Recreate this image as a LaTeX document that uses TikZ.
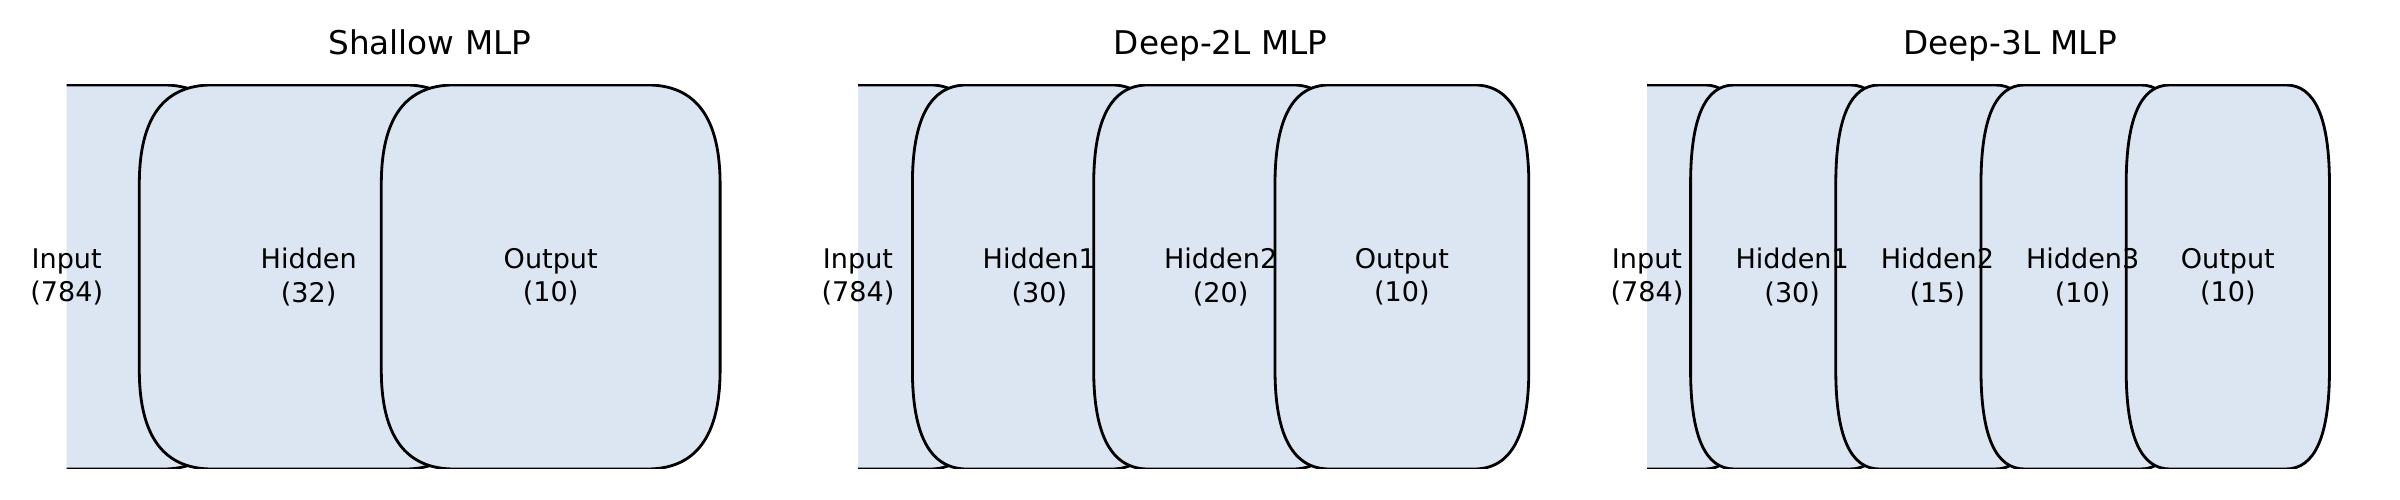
\documentclass[tikz,border=0pt]{standalone}
\usepackage{fontspec}
\setmainfont{DejaVu Sans}
\definecolor{layerfill}{RGB}{220,230,242}

\begin{document}
\begin{tikzpicture}[
  layer/.style={draw=black, fill=layerfill, line width=0.8pt},
  label/.style={inner sep=0pt, align=center, font=\fontsize{7.7}{9.4}\selectfont},
  title/.style={inner sep=0pt, anchor=base, font=\fontsize{9.3}{11}\selectfont},
  layerbox/.pic={
    \path[layer] (-0.7,1.30) -- (-0.7,3.16) .. controls (-0.7,3.82) and (-0.6,4.15) .. (-0.4,4.15)
      -- (0.4,4.15) .. controls (0.6,4.15) and (0.7,3.82) .. (0.7,3.16)
      -- (0.7,1.30) .. controls (0.7,0.64) and (0.6,0.31) .. (0.4,0.31)
      -- (-0.4,0.31) .. controls (-0.6,0.31) and (-0.7,0.64) .. (-0.7,1.30) -- cycle;
  }]
  \useasboundingbox (0,0) rectangle (24,5);

  \begin{scope}[xshift=0.667cm, x=2.42cm]
    \begin{scope}
      \clip (0,0.31) rectangle (3,4.15);
      \pic at (0,0) {layerbox};
      \pic at (1,0) {layerbox};
      \pic at (2,0) {layerbox};
    \end{scope}
    \node[label] (shIn) at (0,2.23) {Input\\(784)};
    \node[label] (shHid) at (1,2.23) {Hidden\\(32)};
    \node[label] (shOut) at (2,2.23) {Output\\(10)};
    \node[title] (shTitle) at (1.5,4.45) {Shallow MLP};
  \end{scope}

  \begin{scope}[xshift=8.58cm, x=1.813cm]
    \begin{scope}
      \clip (0,0.31) rectangle (4,4.15);
      \pic at (0,0) {layerbox};
      \pic at (1,0) {layerbox};
      \pic at (2,0) {layerbox};
      \pic at (3,0) {layerbox};
    \end{scope}
    \node[label] (dtIn) at (0,2.23) {Input\\(784)};
    \node[label] (dtHidA) at (1,2.23) {Hidden1\\(30)};
    \node[label] (dtHidB) at (2,2.23) {Hidden2\\(20)};
    \node[label] (dtOut) at (3,2.23) {Output\\(10)};
    \node[title] (dtTitle) at (2,4.45) {Deep-2L MLP};
  \end{scope}

  \begin{scope}[xshift=16.47cm, x=1.452cm]
    \begin{scope}
      \clip (0,0.31) rectangle (5,4.15);
      \pic at (0,0) {layerbox};
      \pic at (1,0) {layerbox};
      \pic at (2,0) {layerbox};
      \pic at (3,0) {layerbox};
      \pic at (4,0) {layerbox};
    \end{scope}
    \node[label] (drIn) at (0,2.23) {Input\\(784)};
    \node[label] (drHidA) at (1,2.23) {Hidden1\\(30)};
    \node[label] (drHidB) at (2,2.23) {Hidden2\\(15)};
    \node[label] (drHidC) at (3,2.23) {Hidden3\\(10)};
    \node[label] (drOut) at (4,2.23) {Output\\(10)};
    \node[title] (drTitle) at (2.5,4.45) {Deep-3L MLP};
  \end{scope}
\end{tikzpicture}
\end{document}
